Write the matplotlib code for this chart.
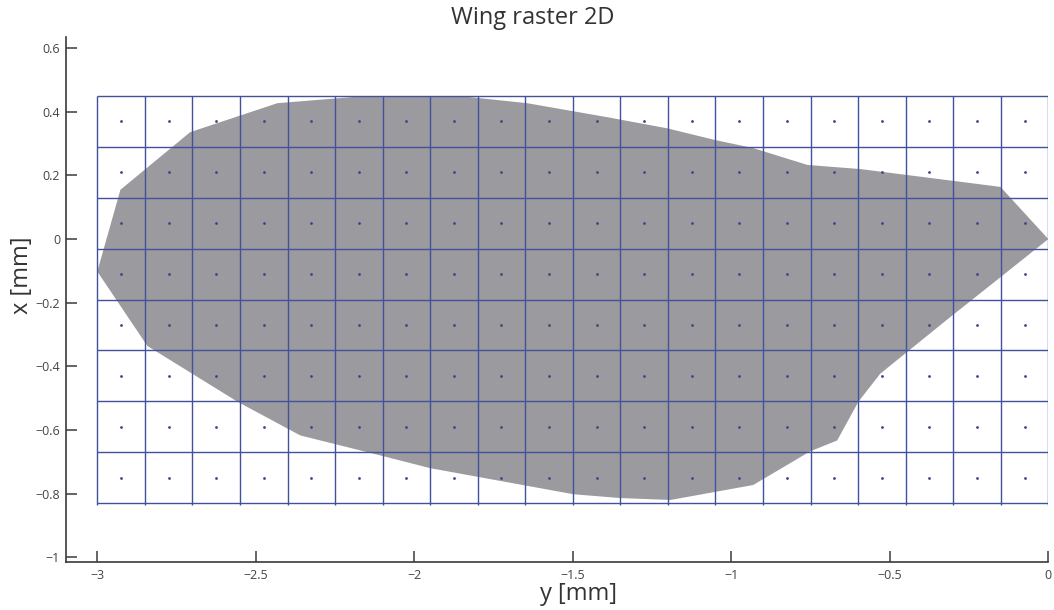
import matplotlib
matplotlib.use("Agg")
import matplotlib.pyplot as plt
import numpy as np

plt.rcParams['font.family'] = ['Open Sans', 'DejaVu Sans']

# wing outline in the (y, x) plane [mm]
wing_y = [-3.000, -2.927, -2.707, -2.432, -2.186, -1.833, -1.644, -1.391, -1.202, -1.050,
          -0.931, -0.760, -0.593, -0.151, 0.000, -0.151, -0.309, -0.530, -0.599, -0.666,
          -0.751, -0.931, -1.192, -1.350, -1.498, -1.950, -2.107, -2.360, -2.558, -2.842]
wing_x = [-0.102, 0.155, 0.336, 0.427, 0.447, 0.447, 0.427, 0.383, 0.348, 0.311,
          0.286, 0.233, 0.220, 0.164, 0.000, -0.120, -0.245, -0.423, -0.511, -0.633,
          -0.667, -0.773, -0.820, -0.814, -0.802, -0.720, -0.680, -0.617, -0.511, -0.336]

# raster cell edges
col_edges = [-3.0, -2.85, -2.7, -2.55, -2.4, -2.25, -2.1, -1.95, -1.8, -1.65, -1.5,
             -1.35, -1.2, -1.05, -0.9, -0.75, -0.6, -0.45, -0.3, -0.15, 0.0]
row_edges = [0.45, 0.29, 0.13, -0.03, -0.19, -0.35, -0.51, -0.67, -0.83]

# raster cell centres
col_centres = [-2.925, -2.775, -2.625, -2.475, -2.325, -2.175, -2.025, -1.875, -1.725, -1.575,
               -1.425, -1.275, -1.125, -0.975, -0.825, -0.675, -0.525, -0.375, -0.225, -0.075]
row_centres = [0.37, 0.21, 0.05, -0.11, -0.27, -0.43, -0.59, -0.75]

xticks = [-3, -2.5, -2, -1.5, -1, -0.5, 0]
xticklabels = ['\u22123', '\u22122.5', '\u22122', '\u22121.5', '\u22121', '\u22120.5', '0']
yticks = [0.6, 0.4, 0.2, 0, -0.2, -0.4, -0.6, -0.8, -1]
yticklabels = ['0.6', '0.4', '0.2', '0', '\u22120.2', '\u22120.4', '\u22120.6', '\u22120.8', '\u22121']

grid_col = '#42529a'
dot_col = '#3a4788'

fig = plt.figure(figsize=(10.54, 6.10), dpi=100)
ax = fig.add_axes([65.6 / 1054, 1 - 561.7 / 610, (1048.3 - 65.6) / 1054, (561.7 - 36.7) / 610])

ax.fill(wing_y, wing_x, color='#9b9b9f', lw=0, zorder=1)

ax.vlines(col_edges, row_edges[-1] - 0.005, row_edges[0], colors=grid_col, lw=1.0, zorder=3)
ax.hlines(row_edges, col_edges[0], col_edges[-1], colors=grid_col, lw=1.0, zorder=3)

gy, gx = np.meshgrid(col_centres, row_centres)
ax.scatter(gy.ravel(), gx.ravel(), s=4, color=dot_col, lw=0, zorder=4)

ax.set_xlim(-3.1, 0)
ax.set_ylim(-1.014, 0.636)

for side in ['top', 'right']:
    ax.spines[side].set_visible(False)
for side in ['left', 'bottom']:
    ax.spines[side].set_color('#3a3a3a')
    ax.spines[side].set_linewidth(1.2)

ax.set_xticks(xticks)
ax.set_xticklabels(xticklabels)
ax.set_yticks(yticks)
ax.set_yticklabels(yticklabels)
ax.tick_params(direction='in', length=8, width=1.1, color='#3a3a3a',
               labelsize=9, labelcolor='#444444')
ax.tick_params(axis='x', pad=5)
ax.tick_params(axis='y', pad=4)

fig.text(533 / 1054, 1 - 18 / 610, 'Wing raster 2D', ha='center', va='center',
         fontsize=17, color='#333333')
fig.text(578 / 1054, 1 - 594 / 610, 'y [mm]', ha='center', va='center',
         fontsize=17, color='#333333')
fig.text(22 / 1054, 1 - 275 / 610, 'x [mm]', ha='center', va='center', rotation=90,
         fontsize=17, color='#333333')

fig.savefig('out.png', dpi=100)
